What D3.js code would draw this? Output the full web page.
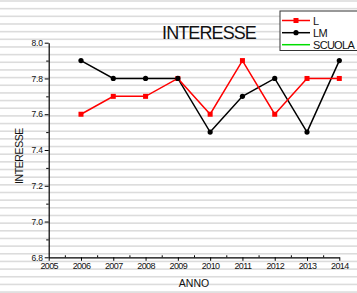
<!DOCTYPE html>
<html>
<head>
<meta charset="utf-8">
<script src="https://cdn.jsdelivr.net/npm/d3@7"></script>
<style>
  body { margin: 0; background: #fff; }
  svg { display: block; font-family: "Liberation Sans", Arial, sans-serif; }
</style>
</head>
<body>
<div id="chart-area"></div>
<script>
// data
const years = [2006, 2007, 2008, 2009, 2010, 2011, 2012, 2013, 2014];
const valuesL = [7.6, 7.7, 7.7, 7.8, 7.6, 7.9, 7.6, 7.8, 7.8];
const valuesLM = [7.9, 7.8, 7.8, 7.8, 7.5, 7.7, 7.8, 7.5, 7.9];
const seriesNames = ["L", "LM", "SCUOLA"];
const xTicks = [2005, 2006, 2007, 2008, 2009, 2010, 2011, 2012, 2013, 2014];
const yTicks = [6.8, 7.0, 7.2, 7.4, 7.6, 7.8, 8.0];

const width = 357;
const height = 293;

const svg = d3.select("#chart-area")
  .append("svg")
  .attr("width", width)
  .attr("height", height);

// gray notebook-like stripes in the background
const stripes = d3.range(0.2, height, 7.66);
svg.append("g")
  .selectAll("rect")
  .data(stripes)
  .enter()
  .append("rect")
  .attr("x", 0)
  .attr("y", d => d)
  .attr("width", width)
  .attr("height", 1.6)
  .attr("fill", "#dcdcdc");

const x = d3.scaleLinear().domain([2005, 2014]).range([48.7, 339.3]);
const y = d3.scaleLinear().domain([6.8, 8.0]).range([257.3, 42.7]);

// x axis, major + minor ticks
const xAxis = svg.append("g")
  .attr("transform", `translate(0,${y(6.8)})`)
  .call(d3.axisBottom(x).tickValues(xTicks).tickFormat(d3.format("d"))
    .tickSizeInner(3.5).tickSizeOuter(0).tickPadding(2));
xAxis.selectAll("text")
  .attr("font-size", "9px")
  .attr("letter-spacing", "-0.6px")
  .attr("fill", "#111");

svg.append("g")
  .attr("transform", `translate(0,${y(6.8)})`)
  .call(d3.axisBottom(x).tickValues(d3.range(2005.5, 2014, 1)).tickFormat("")
    .tickSizeInner(-2).tickSizeOuter(0))
  .select(".domain").remove();

// y axis
const yAxis = svg.append("g")
  .attr("transform", `translate(${x(2005)},0)`)
  .call(d3.axisLeft(y).tickValues(yTicks).tickFormat(d3.format(".1f"))
    .tickSizeInner(4).tickSizeOuter(0).tickPadding(2));
yAxis.selectAll("text")
  .attr("font-size", "8.5px")
  .attr("letter-spacing", "-0.2px")
  .attr("fill", "#111");

svg.append("g")
  .attr("transform", `translate(${x(2005)},0)`)
  .call(d3.axisLeft(y).tickValues(d3.range(6.9, 8.0, 0.2)).tickFormat("")
    .tickSizeInner(2.5).tickSizeOuter(0))
  .select(".domain").remove();

svg.selectAll(".domain").attr("stroke-width", 1.2);

// lines
const line = d3.line()
  .x(d => x(d[0]))
  .y(d => y(d[1]));

const dataL = years.map((yr, i) => [yr, valuesL[i]]);
const dataLM = years.map((yr, i) => [yr, valuesLM[i]]);

svg.append("path")
  .datum(dataLM)
  .attr("d", line)
  .attr("fill", "none")
  .attr("stroke", "#000")
  .attr("stroke-width", 1.5);

svg.append("path")
  .datum(dataL)
  .attr("d", line)
  .attr("fill", "none")
  .attr("stroke", "#ff0000")
  .attr("stroke-width", 1.5);

svg.selectAll("rect.markL")
  .data(dataL)
  .enter()
  .append("rect")
  .attr("class", "markL")
  .attr("x", d => x(d[0]) - 2.5)
  .attr("y", d => y(d[1]) - 2.5)
  .attr("width", 5)
  .attr("height", 5)
  .attr("fill", "#ff0000");

svg.selectAll("circle.markLM")
  .data(dataLM)
  .enter()
  .append("circle")
  .attr("class", "markLM")
  .attr("cx", d => x(d[0]))
  .attr("cy", d => y(d[1]))
  .attr("r", 2.6)
  .attr("fill", "#000");

// title and axis labels
svg.append("text")
  .attr("x", 209)
  .attr("y", 38.7)
  .attr("text-anchor", "middle")
  .attr("font-size", "18px")
  .attr("letter-spacing", "-0.9px")
  .attr("fill", "#111")
  .text("INTERESSE");

svg.append("text")
  .attr("x", 194)
  .attr("y", 286.7)
  .attr("text-anchor", "middle")
  .attr("font-size", "10.5px")
  .attr("fill", "#111")
  .text("ANNO");

svg.append("text")
  .attr("transform", "translate(22.5,156) rotate(-90)")
  .attr("text-anchor", "middle")
  .attr("font-size", "10.5px")
  .attr("letter-spacing", "-0.4px")
  .attr("fill", "#111")
  .text("INTERESSE");

// legend
const legend = svg.append("g");
legend.append("rect")
  .attr("x", 280)
  .attr("y", 11)
  .attr("width", 90)
  .attr("height", 39.5)
  .attr("fill", "#fff")
  .attr("stroke", "#333")
  .attr("stroke-width", 1);

const legendColors = ["#ff0000", "#000000", "#00dd00"];
const legendY = [20.5, 32.7, 44.7];

seriesNames.forEach((name, i) => {
  legend.append("line")
    .attr("x1", 282).attr("x2", 310)
    .attr("y1", legendY[i]).attr("y2", legendY[i])
    .attr("stroke", legendColors[i])
    .attr("stroke-width", 1.5);
  legend.append("text")
    .attr("x", 313)
    .attr("y", legendY[i] + 4)
    .attr("font-size", "11px")
    .attr("letter-spacing", "-0.7px")
    .attr("fill", "#111")
    .text(name);
});
legend.append("rect")
  .attr("x", 296 - 2.5).attr("y", legendY[0] - 2.5)
  .attr("width", 5).attr("height", 5)
  .attr("fill", "#ff0000");
legend.append("circle")
  .attr("cx", 296).attr("cy", legendY[1])
  .attr("r", 2.6)
  .attr("fill", "#000");
</script>
</body>
</html>
